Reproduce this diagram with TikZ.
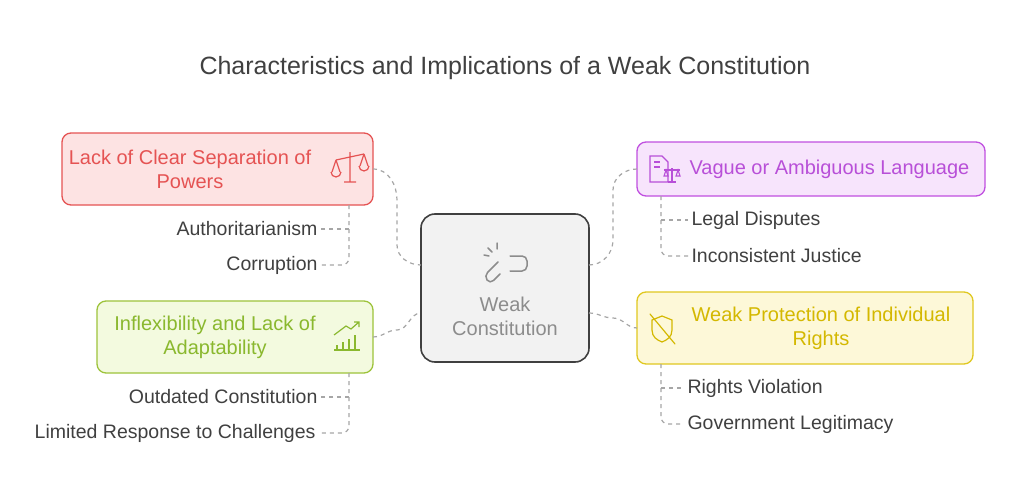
\documentclass[tikz,border=0pt]{standalone}
\usepackage{fontspec}
\setmainfont{Liberation Sans}
\begin{document}
\begin{tikzpicture}[x=1pt,y=-1pt,
  box/.style={rounded corners=9pt,line width=1.3pt,inner sep=0pt},
  conn/.style={draw=gray!70,dashed,line width=1.2pt,dash pattern=on 4pt off 4pt},
  sub/.style={font=\fontsize{19.5}{22}\selectfont,text=black!75},
  lbl/.style={font=\fontsize{20}{24}\selectfont,align=center}]
\definecolor{rF}{HTML}{FDE3E3}\definecolor{rD}{HTML}{E55353}
\definecolor{gF}{HTML}{F3FADF}\definecolor{gD}{HTML}{9DC33B}\definecolor{gT}{HTML}{8AB82E}
\definecolor{pF}{HTML}{F7E4FC}\definecolor{pD}{HTML}{C050E0}\definecolor{pT}{HTML}{B84FD8}
\definecolor{yF}{HTML}{FDF8D8}\definecolor{yD}{HTML}{E0C820}\definecolor{yT}{HTML}{D4B800}
\useasboundingbox[fill=white] (0,0) rectangle (1010,495);
\node[font=\fontsize{25}{28}\selectfont,text=black!75] (title) at (505,68) {Characteristics and Implications of a Weak Constitution};
% center
\draw[box,rounded corners=14pt,fill=black!5,draw=black!75,line width=1.6pt] (421,214) rectangle (589,362);
\node[lbl,text=black!45] (c) at (505,316) {Weak\\Constitution};
\coordinate (cL1) at (421,265); \coordinate (cL2) at (421,313);
\coordinate (cR1) at (589,265); \coordinate (cR2) at (589,313);
\begin{scope}[draw=black!45,line width=1.5pt,line cap=round,rounded corners=5pt]
\draw (498,262)--(484,276)--(490,284)--(500,274);
\draw (510,256)--(527,256)--(527,271)--(510,271);
\draw[sharp corners] (488,248)--(492,252) (497,243)--(497,249) (484,255)--(489,256);
\end{scope}
% red
\draw[box,fill=rF,draw=rD] (62,133) rectangle (373,205);
\node[lbl,text=rD] (r) at (190,169) {Lack of Clear Separation of\\Powers};
\begin{scope}[draw=rD,line width=1.2pt]
\draw (336,160)--(364,154) (350,152)--(350,182) (344,182)--(356,182);
\draw (336,160)--(332,172) (336,160)--(340,172) (331,172) arc (180:0:5);
\draw (364,154)--(360,166) (364,154)--(368,166) (359,166) arc (180:0:5);
\end{scope}
\node[sub,anchor=east] (r1) at (321,229) {Authoritarianism};
\node[sub,anchor=east] (r2) at (321,265) {Corruption};
\draw[conn] (349,205) -- (349,258) to[out=-90,in=0] (342,265) -- (r2.east);
\draw[conn] (349,229) -- (r1.east);
\draw[conn] (373,169) to[out=0,in=90] (397,200) -- (397,245) to[out=-90,in=180] (cL1);
% green
\draw[box,fill=gF,draw=gD] (97,301) rectangle (373,373);
\node[lbl,text=gT] (g) at (215,337) {Inflexibility and Lack of\\Adaptability};
\begin{scope}[draw=gT,line width=1.2pt]
\draw (334,350)--(360,350);
\foreach \x/\h in {337/4,343/7,349/10,355/14} \draw (\x,349)--(\x,349-\h);
\draw (334,335)--(346,326)--(351,329)--(359,322) (354,322)--(359,322)--(359,327);
\end{scope}
\node[sub,anchor=east] (g1) at (321,397) {Outdated Constitution};
\node[sub,anchor=east] (g2) at (319,433) {Limited Response to Challenges};
\draw[conn] (349,373) -- (349,426) to[out=-90,in=0] (342,433) -- (g2.east);
\draw[conn] (349,397) -- (g1.east);
\draw[conn] (373,337) to[out=0,in=180] (397,330) to[out=0,in=180] (cL2);
% purple
\draw[box,fill=pF,draw=pD] (637,142) rectangle (985,196);
\node[lbl,text=pT,anchor=west] (p) at (686,169) {Vague or Ambiguous Language};
\begin{scope}[draw=pT,line width=1.1pt]
\draw (650,156)--(662,156)--(668,162)--(668,182)--(650,182)--cycle;
\draw (654,162)--(660,162) (654,167)--(660,167);
\draw (664,170)--(680,170) (672,168)--(672,182) (668,182)--(676,182);
\draw (666,170)--(664,176)--(668,176)--cycle (678,170)--(676,176)--(680,176)--cycle;
\end{scope}
\node[sub,anchor=west] (p1) at (688,220) {Legal Disputes};
\node[sub,anchor=west] (p2) at (688,256) {Inconsistent Justice};
\draw[conn] (661,196) -- (661,249) to[out=-90,in=180] (668,256) -- (p2.west);
\draw[conn] (661,220) -- (p1.west);
\draw[conn] (cR1) to[out=0,in=-90] (613,240) -- (613,190) to[out=90,in=180] (637,169);
% yellow
\draw[box,fill=yF,draw=yD] (637,292) rectangle (973,364);
\node[lbl,text=yT] (y) at (821,328) {Weak Protection of Individual\\Rights};
\begin{scope}[draw=yT,line width=1.2pt,line cap=round]
\draw (662,316) -- (672,320) -- (672,330) .. controls (672,337) and (667,340) .. (662,342) .. controls (657,340) and (652,337) .. (652,330) -- (652,320) -- cycle;
\draw (650,314)--(675,344);
\end{scope}
\node[sub,anchor=west] (y1) at (684,388) {Rights Violation};
\node[sub,anchor=west] (y2) at (684,424) {Government Legitimacy};
\draw[conn] (661,364) -- (661,417) to[out=-90,in=180] (668,424) -- (y2.west);
\draw[conn] (661,388) -- (y1.west);
\draw[conn] (cR2) to[out=0,in=180] (613,318) to[out=0,in=180] (637,328);
\end{tikzpicture}
\end{document}
